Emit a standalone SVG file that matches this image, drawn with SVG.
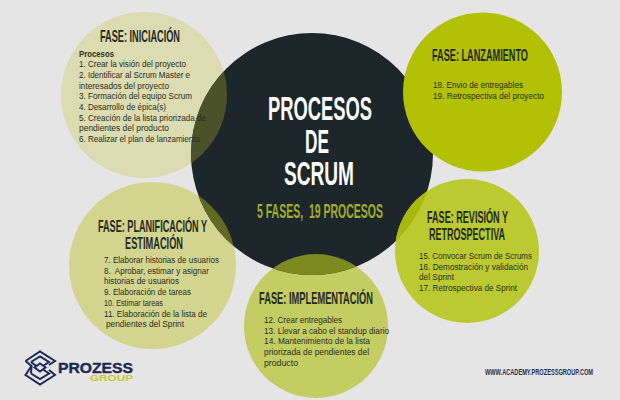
<svg xmlns="http://www.w3.org/2000/svg" width="620" height="400" viewBox="0 0 620 400">
<style>
.b{font-family:"Liberation Sans",Arial,sans-serif;font-size:9.200px;fill:#2a2d20}
.h{font-family:"Liberation Sans Narrow","Liberation Sans",sans-serif;font-size:16.500px;font-weight:700;fill:#23291f}
.m{font-family:"Liberation Sans Narrow","Liberation Sans",sans-serif;font-weight:700}
</style>
<defs>
<clipPath id="cc"><circle cx="312" cy="154" r="121"/></clipPath>
</defs>
<rect width="620" height="400" fill="#e6e5e6"/>
<circle cx="144" cy="95" r="83" fill="#dcdcb2"/>
<circle cx="152.500" cy="265.500" r="83.500" fill="#d3d58f"/>
<circle cx="316" cy="326" r="72" fill="#c4cd62"/>
<circle cx="312" cy="154" r="121" fill="#1d262b"/>
<g clip-path="url(#cc)">
<circle cx="144" cy="95" r="83" fill="#4b5128"/>
<circle cx="152.500" cy="265.500" r="83.500" fill="#5f6b22"/>
<circle cx="316" cy="326" r="72" fill="#7d8a1f"/>
</g>
<circle cx="467" cy="251" r="72" fill="#bcca32"/>
<circle cx="467" cy="251" r="72" fill="#a9b80f" clip-path="url(#cc)"/>
<circle cx="482.500" cy="92" r="79.500" fill="#b3c106"/>

<g id="centro">
<text class="m" font-size="34" fill="#fff" x="268" y="120" textLength="104" lengthAdjust="spacingAndGlyphs">PROCESOS</text>
<text class="m" font-size="34" fill="#fff" x="305" y="153" textLength="24" lengthAdjust="spacingAndGlyphs">DE</text>
<text class="m" font-size="34" fill="#fff" x="284" y="185" textLength="70" lengthAdjust="spacingAndGlyphs">SCRUM</text>
<text class="m" font-size="20" fill="#a3ad2d" x="257" y="218" textLength="126" lengthAdjust="spacingAndGlyphs" xml:space="preserve">5 FASES,  19 PROCESOS</text>
</g>

<g id="iniciacion">
<text class="h" x="100" y="42" textLength="80" lengthAdjust="spacingAndGlyphs">FASE: INICIACIÓN</text>
<text class="b" x="79" y="56.500" font-weight="700" textLength="35" lengthAdjust="spacingAndGlyphs">Procesos</text>
<text class="b" x="79" y="67.200" textLength="107" lengthAdjust="spacingAndGlyphs">1. Crear la visión del proyecto</text>
<text class="b" x="79" y="77.900" textLength="111" lengthAdjust="spacingAndGlyphs">2. Identificar al Scrum Master e</text>
<text class="b" x="79" y="88.600" textLength="90" lengthAdjust="spacingAndGlyphs">interesados del proyecto</text>
<text class="b" x="79" y="99.300" textLength="113" lengthAdjust="spacingAndGlyphs">3. Formación del equipo Scrum</text>
<text class="b" x="79" y="110" textLength="87" lengthAdjust="spacingAndGlyphs">4. Desarrollo de épica(s)</text>
<text class="b" x="79" y="120.700" textLength="127" lengthAdjust="spacingAndGlyphs">5. Creación de la lista priorizada de</text>
<text class="b" x="79" y="131.400" textLength="90" lengthAdjust="spacingAndGlyphs">pendientes del producto</text>
<text class="b" x="79" y="142.100" textLength="121" lengthAdjust="spacingAndGlyphs">6. Realizar el plan de lanzamiento</text>
</g>

<g id="lanzamiento">
<text class="h" x="432" y="61" textLength="96" lengthAdjust="spacingAndGlyphs">FASE: LANZAMIENTO</text>
<text class="b" x="433" y="88" textLength="90" lengthAdjust="spacingAndGlyphs">18. Envio de entregables</text>
<text class="b" x="433" y="98.700" textLength="111" lengthAdjust="spacingAndGlyphs">19. Retrospectiva del proyecto</text>
</g>

<g id="planificacion">
<text class="h" x="98" y="232" textLength="109" lengthAdjust="spacingAndGlyphs">FASE: PLANIFICACIÓN Y</text>
<text class="h" x="125" y="248.500" textLength="58" lengthAdjust="spacingAndGlyphs">ESTIMACIÓN</text>
<text class="b" x="104" y="263" textLength="115" lengthAdjust="spacingAndGlyphs">7. Elaborar historias de usuarios</text>
<text class="b" x="104" y="273.700" textLength="105" lengthAdjust="spacingAndGlyphs" xml:space="preserve">8.  Aprobar, estimar y asignar</text>
<text class="b" x="104" y="284.400" textLength="75" lengthAdjust="spacingAndGlyphs">historias de usuarios</text>
<text class="b" x="104" y="295.100" textLength="87" lengthAdjust="spacingAndGlyphs">9. Elaboración de tareas</text>
<text class="b" x="104" y="305.800" textLength="59" lengthAdjust="spacingAndGlyphs">10. Estimar tareas</text>
<text class="b" x="104" y="316.500" textLength="103" lengthAdjust="spacingAndGlyphs">11. Elaboración de la lista de</text>
<text class="b" x="106" y="327.200" textLength="78" lengthAdjust="spacingAndGlyphs">pendientes del Sprint</text>
</g>

<g id="revision">
<text class="h" x="427" y="223" textLength="81" lengthAdjust="spacingAndGlyphs">FASE: REVISIÓN Y</text>
<text class="h" x="429" y="240" textLength="76" lengthAdjust="spacingAndGlyphs">RETROSPECTIVA</text>
<text class="b" x="419" y="259" textLength="113" lengthAdjust="spacingAndGlyphs">15. Convocar Scrum de Scrums</text>
<text class="b" x="419" y="269.700" textLength="109" lengthAdjust="spacingAndGlyphs">16. Demostración y validación</text>
<text class="b" x="419" y="280.400" textLength="35" lengthAdjust="spacingAndGlyphs">del Sprint</text>
<text class="b" x="419" y="291.100" textLength="98" lengthAdjust="spacingAndGlyphs">17. Retrospectiva de Sprint</text>
</g>

<g id="implementacion">
<text class="h" x="259" y="304" textLength="114" lengthAdjust="spacingAndGlyphs">FASE: IMPLEMENTACIÓN</text>
<text class="b" x="264" y="323" textLength="78" lengthAdjust="spacingAndGlyphs">12. Crear entregables</text>
<text class="b" x="264" y="333.700" textLength="125" lengthAdjust="spacingAndGlyphs">13. Llevar a cabo el standup diario</text>
<text class="b" x="264" y="344.400" textLength="106" lengthAdjust="spacingAndGlyphs">14. Mantenimiento de la lista</text>
<text class="b" x="264" y="355.100" textLength="105" lengthAdjust="spacingAndGlyphs">priorizada de pendientes del</text>
<text class="b" x="264" y="365.800" textLength="34" lengthAdjust="spacingAndGlyphs">producto</text>
</g>

<g id="logo">
<g fill="none" stroke="#1c2b55" stroke-width="2">
<path d="M25.500 361 L40 351.500 L55 361 L49 365"/>
<path d="M31 362 L40 356.500 L49 362 L43 366"/>
<path d="M40 363.500 L45.500 367.500 L40 371.500 L34.500 367.500 Z"/>
<path d="M31 362 L37 366.500"/>
<path d="M25.500 361 L31.500 366 L25.500 375 L40 384.500 L55 375 L49 370"/>
<path d="M31 373.500 L40 379 L49 373.500 L43 369.500"/>
<path d="M31.500 366 L31 373.500"/>
</g>
<text class="m" font-size="15" fill="#1c2b55" stroke="#1c2b55" stroke-width=".4" x="58" y="373" textLength="75" lengthAdjust="spacingAndGlyphs">PROZESS</text>
<text class="m" font-size="9" fill="#c3cc2a" x="90" y="381" textLength="43" lengthAdjust="spacingAndGlyphs">GROUP</text>
</g>
<g id="url">
<text class="m" font-size="9.500" fill="#1f2d50" x="485" y="375" textLength="108" lengthAdjust="spacingAndGlyphs">WWW.ACADEMY.PROZESSGROUP.COM</text>
</g>
</svg>
